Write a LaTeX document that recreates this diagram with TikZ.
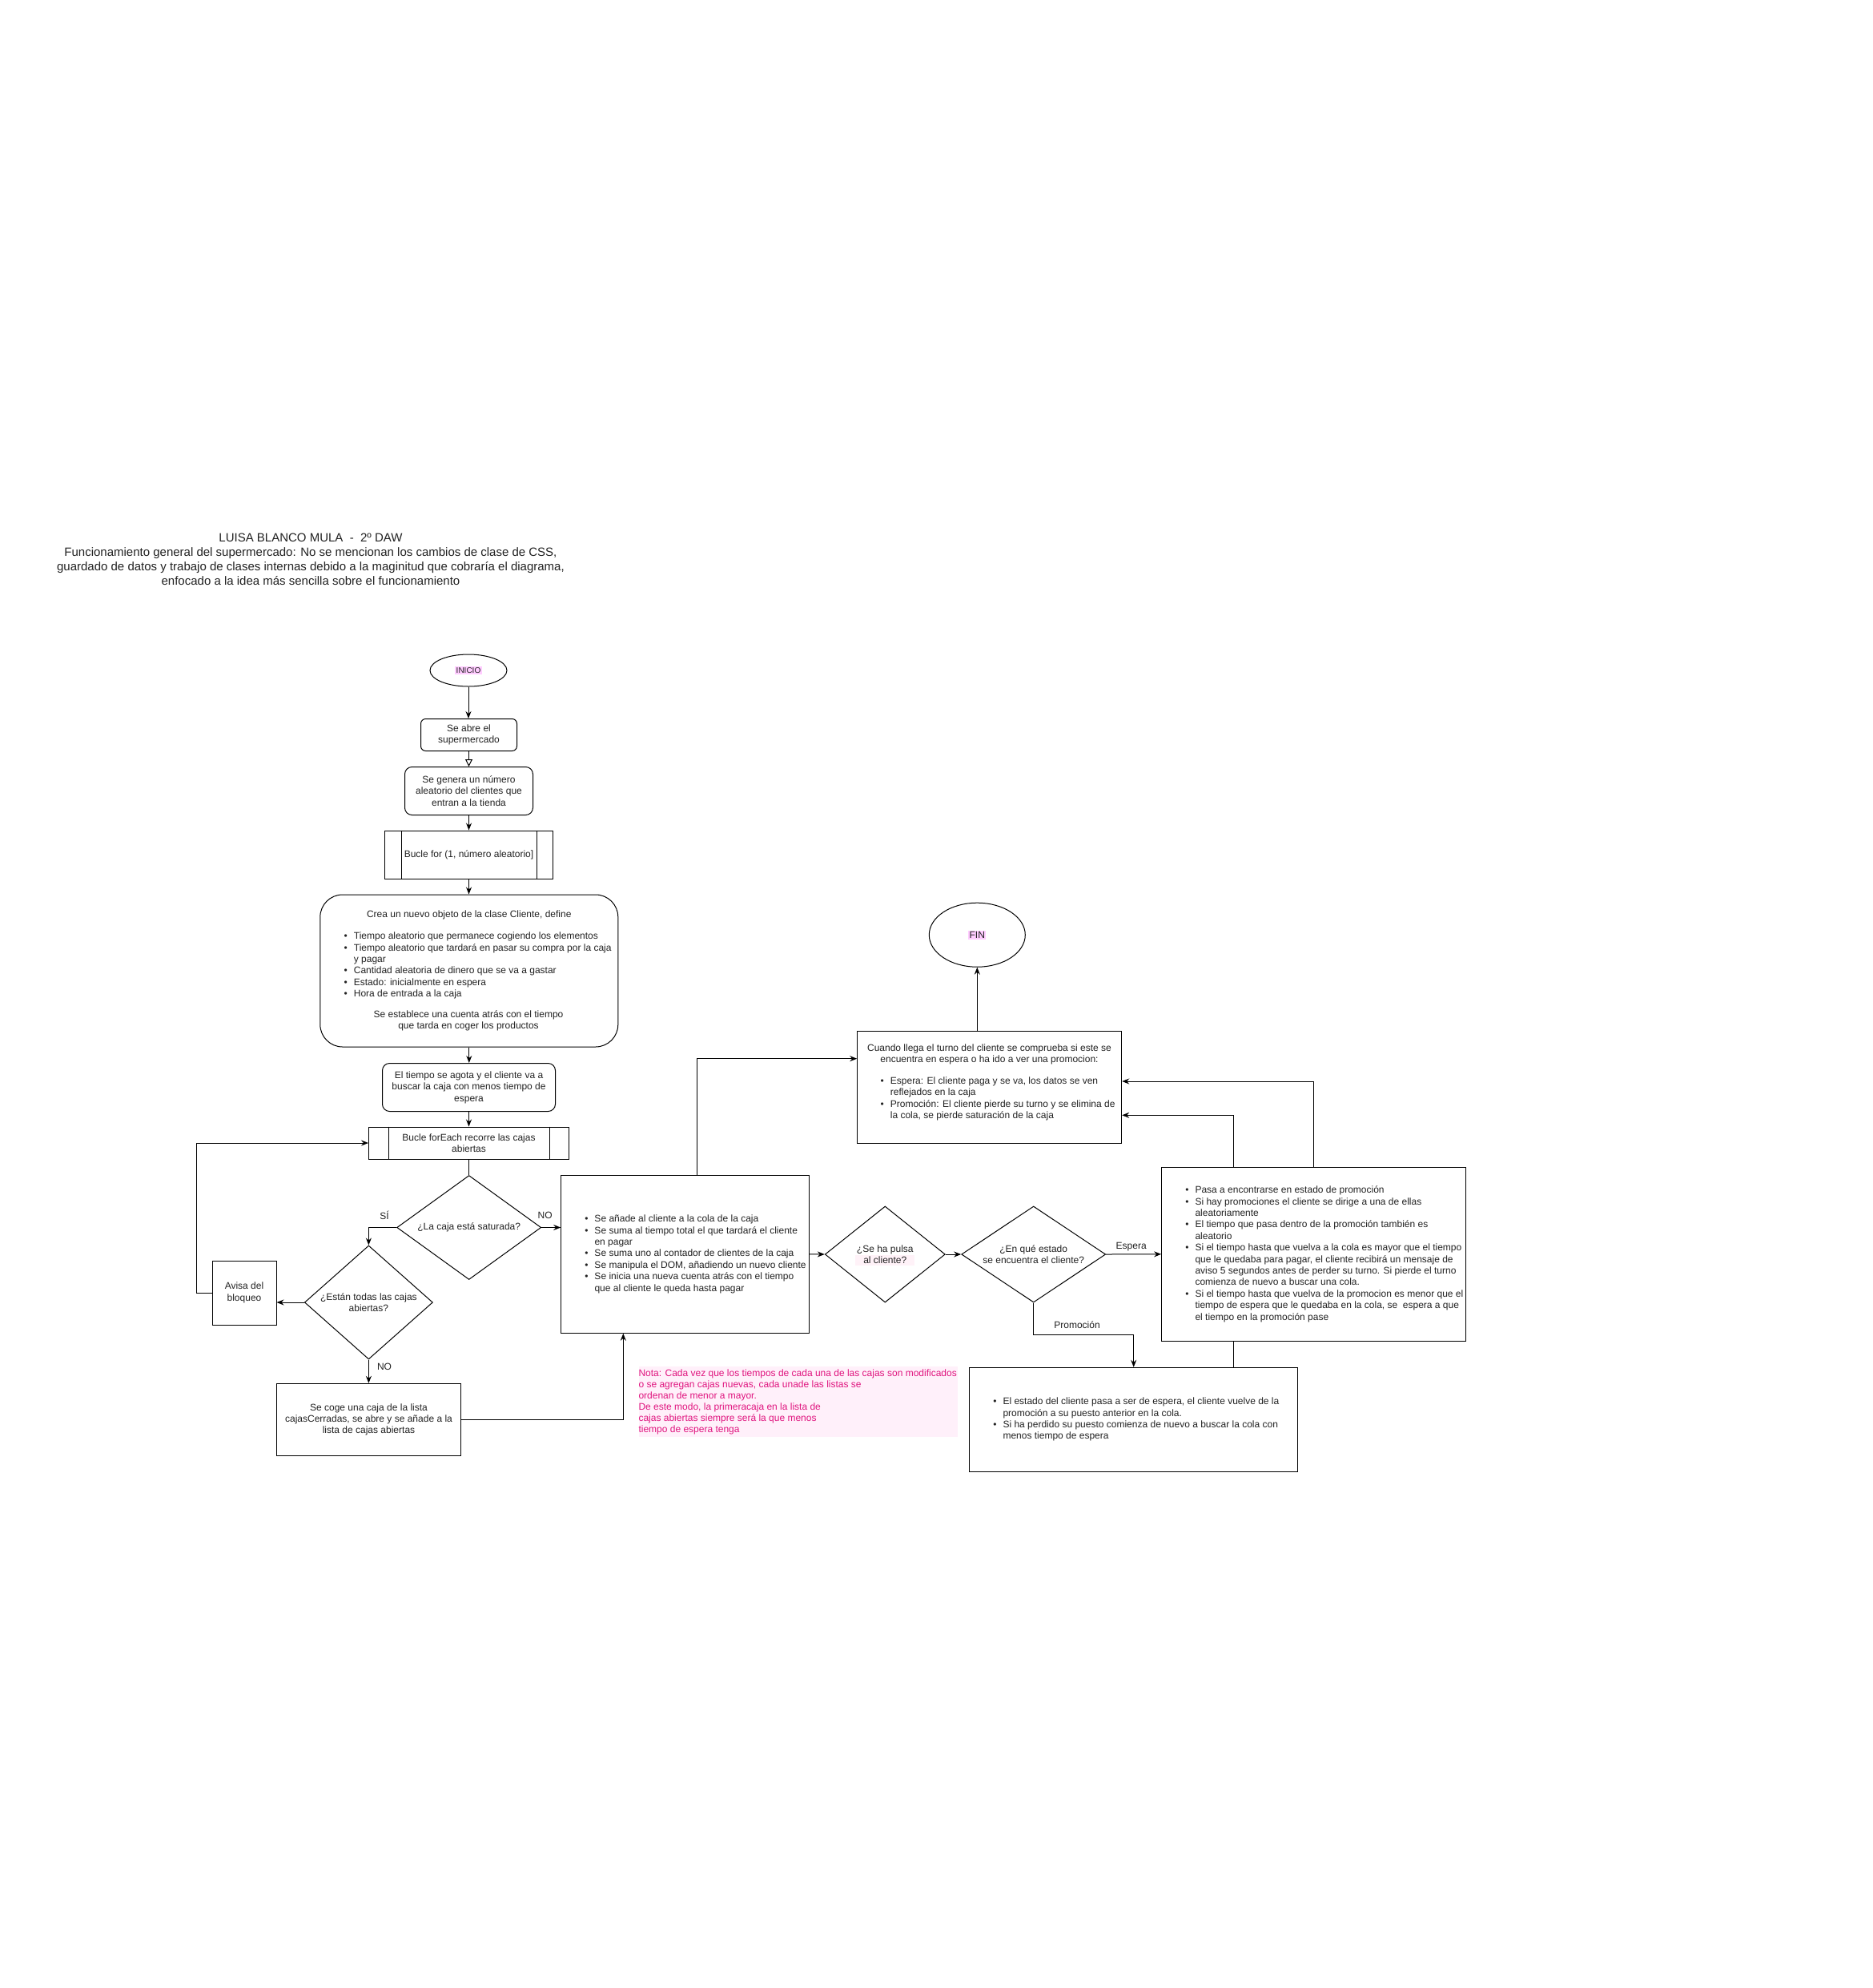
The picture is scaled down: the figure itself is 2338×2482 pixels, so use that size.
\documentclass[tikz,border=0pt]{standalone}
\usepackage{fontspec}
\setmainfont{Liberation Sans}
\usetikzlibrary{shapes.geometric,arrows.meta,calc}
\definecolor{txt}{HTML}{222222}
\definecolor{hl}{HTML}{FFCCFF}
\definecolor{notetxt}{HTML}{E0157F}
\definecolor{notebg}{HTML}{FFF0FA}
\definecolor{faint}{HTML}{FFF2F8}
\newcommand{\fsn}{\fontsize{12pt}{14.4pt}\selectfont}
\newcommand{\fsnote}{\fontsize{12pt}{14pt}\selectfont}
\newcommand{\fst}{\fontsize{15pt}{18pt}\selectfont}
\newcommand{\itm}{\makebox[0pt][r]{\textbullet\hspace{8pt}}}
\begin{document}
\begin{tikzpicture}[x=1pt,y=-1pt,
  base/.style={draw=black, line width=1pt, inner sep=0pt, font=\fsn, text=txt, align=center},
  rectnode/.style={base, rectangle, fill=white},
  roundnode/.style={base, rectangle, fill=white},
  termnode/.style={base, ellipse},
  decnode/.style={base, diamond},
  txtn/.style={font=\fsn, text=txt, inner sep=0pt, align=left},
  lbl/.style={font=\fsn, text=txt, inner sep=0pt},
  arr/.style={line width=1pt, -{Stealth[length=9pt,width=7pt,inset=3pt]}},
  oarr/.style={line width=1pt, -{Triangle[open,length=9pt,width=9pt]}},
  conn/.style={line width=1pt}
]
\useasboundingbox[fill=white] (0,0) rectangle (2338,2482);

% title
\node[font=\fst, text=txt, align=center, inner sep=0pt] (title) at (388,698)
 {LUISA BLANCO MULA~ -~ 2º DAW\\Funcionamiento general del supermercado: No se mencionan los cambios de clase de CSS,\\guardado de datos y trabajo de clases internas debido a la maginitud que cobraría el diagrama,\\enfocado a la idea más sencilla sobre el funcionamiento};

% left column
\node[termnode, minimum width=96pt, minimum height=40pt] (inicio) at (585,837) {};
\node[fill=hl, inner sep=1.5pt, font=\fontsize{10pt}{12pt}\selectfont, text=txt] (inicioT) at (inicio) {INICIO};

\node[roundnode, rounded corners=6pt, minimum width=120pt, minimum height=40pt] (abre) at (585.5,917.5) {Se abre el\\supermercado};
\node[roundnode, rounded corners=9pt, minimum width=160pt, minimum height=60pt] (genera) at (585.5,987.5) {Se genera un número\\aleatorio del clientes que\\entran a la tienda};
\node[rectnode, minimum width=210pt, minimum height=60pt] (bfor) at (585.5,1067) {Bucle for (1, número aleatorio]};
\draw[conn] ([xshift=21pt]bfor.north west) -- ([xshift=21pt]bfor.south west);
\draw[conn] ([xshift=-21pt]bfor.north east) -- ([xshift=-21pt]bfor.south east);

\node[roundnode, rounded corners=28pt, minimum width=372pt, minimum height=190pt] (crea) at (585.8,1212) {};
\node[txtn, align=center] (creaA) at (585.8,1142) {Crea un nuevo objeto de la clase Cliente, define};
\node[txtn, anchor=west] (creaB) at (441.7,1205.5) {\itm Tiempo aleatorio que permanece cogiendo los elementos\\\itm Tiempo aleatorio que tardará en pasar su compra por la caja\\y pagar\\\itm Cantidad aleatoria de dinero que se va a gastar\\\itm Estado: inicialmente en espera\\\itm Hora de entrada a la caja};
\node[txtn, align=center] (creaC) at (585,1274.5) {Se establece una cuenta atrás con el tiempo\\que tarda en coger los productos};

\node[roundnode, rounded corners=9pt, minimum width=216pt, minimum height=60pt] (tiempo) at (585.5,1357.5) {El tiempo se agota y el cliente va a\\buscar la caja con menos tiempo de\\espera};

\node[rectnode, minimum width=250pt, minimum height=40pt] (bfe) at (585.5,1427) {Bucle forEach recorre las cajas\\abiertas};
\draw[conn] ([xshift=25pt]bfe.north west) -- ([xshift=25pt]bfe.south west);
\draw[conn] ([xshift=-25pt]bfe.north east) -- ([xshift=-25pt]bfe.south east);

\node[decnode, aspect=1.385, minimum width=180pt, minimum height=130pt] (sat) at (585.7,1532.5) {¿La caja está saturada?};
\node[decnode, aspect=1.127, minimum width=160pt, minimum height=142pt] (todas) at (460.4,1626) {¿Están todas las cajas\\abiertas?};
\node[rectnode, minimum width=80pt, minimum height=80pt] (avisa) at (305,1614) {Avisa del\\bloqueo};
\node[rectnode, minimum width=230pt, minimum height=90pt] (coge) at (460.5,1772.3) {Se coge una caja de la lista\\cajasCerradas, se abre y se añade a la\\lista de cajas abiertas};

% middle
\node[rectnode, minimum width=310pt, minimum height=197pt] (anade) at (855.7,1565.8) {};
\node[txtn, anchor=west] (anadeT) at (742.3,1565.7) {\itm Se añade al cliente a la cola de la caja\\\itm Se suma al tiempo total el que tardará el cliente\\en pagar\\\itm Se suma uno al contador de clientes de la caja\\\itm Se manipula el DOM, añadiendo un nuevo cliente\\\itm Se inicia una nueva cuenta atrás con el tiempo\\que al cliente le queda hasta pagar};

\node[fill=notebg, minimum width=398.4pt, minimum height=87.3pt, inner sep=0pt, anchor=north west] (notabg) at (797.3,1706) {};
\node[txtn, font=\fsnote, text=notetxt, anchor=west] (nota) at (797.3,1750) {Nota: Cada vez que los tiempos de cada una de las cajas son modificados\\o se agregan cajas nuevas, cada unade las listas se\\ordenan de menor a mayor.\\De este modo, la primeracaja en la lista de\\cajas abiertas siempre será la que menos\\tiempo de espera tenga};

\fill[faint] (1068,1567) rectangle (1141.7,1580);
\node[decnode, aspect=1.25, minimum width=150pt, minimum height=120pt] (pulsa) at (1105.3,1566) {¿Se ha pulsa\\al cliente?};
\node[decnode, aspect=1.5, minimum width=180pt, minimum height=120pt] (estado) at (1290.7,1566) {¿En qué estado\\se encuentra el cliente?};

% right
\node[termnode, minimum width=120pt, minimum height=80pt] (fin) at (1220.3,1167.2) {};
\node[fill=hl, inner sep=1.5pt, font=\fsn, text=txt] (finT) at (fin) {FIN};

\node[rectnode, minimum width=330pt, minimum height=140pt] (cuando) at (1235.7,1357.3) {};
\node[txtn, align=center] (cuandoA) at (1235.5,1316.5) {Cuando llega el turno del cliente se comprueba si este se\\encuentra en espera o ha ido a ver una promocion:};
\node[txtn, anchor=west] (cuandoB) at (1111.7,1372) {\itm Espera: El cliente paga y se va, los datos se ven\\reflejados en la caja\\\itm Promoción: El cliente pierde su turno y se elimina de\\la cola, se pierde saturación de la caja};

\node[rectnode, minimum width=410pt, minimum height=130pt] (vuelve) at (1415.7,1772.3) {};
\node[txtn, anchor=west] (vuelveT) at (1252.3,1772.2) {\itm El estado del cliente pasa a ser de espera, el cliente vuelve de la\\promoción a su puesto anterior en la cola.\\\itm Si ha perdido su puesto comienza de nuevo a buscar la cola con\\menos tiempo de espera};

% connector behind promo box
\coordinate (h4) at (0,1392.3);
\draw[arr] ([xshift=125pt]vuelve.north) |- (cuando.east |- h4);

\node[rectnode, minimum width=380pt, minimum height=217pt] (promo) at (1640.7,1565.8) {};
\node[txtn, anchor=west] (promoT) at (1492.3,1565.8) {\itm Pasa a encontrarse en estado de promoción\\\itm Si hay promociones el cliente se dirige a una de ellas\\aleatoriamente\\\itm El tiempo que pasa dentro de la promoción también es\\aleatorio\\\itm Si el tiempo hasta que vuelva a la cola es mayor que el tiempo\\que le quedaba para pagar, el cliente recibirá un mensaje de\\aviso 5 segundos antes de perder su turno. Si pierde el turno\\comienza de nuevo a buscar una cola.\\\itm Si el tiempo hasta que vuelva de la promocion es menor que el\\tiempo de espera que le quedaba en la cola, se~ espera a que\\el tiempo en la promoción pase};

% connectors
\draw[arr] (inicio.south) -- (inicio.south |- abre.north);
\draw[oarr] (abre.south) -- (genera.north);
\draw[arr] (genera.south) -- (bfor.north);
\draw[arr] (bfor.south) -- (bfor.south |- crea.north);
\draw[arr] (crea.south) -- (crea.south |- tiempo.north);
\draw[arr] (tiempo.south) -- (bfe.north);
\draw[conn] (bfe.south) -- (bfe.south |- sat.north);
\draw[arr] (sat.west) -| (todas.north);
\draw[arr] (sat.east) -- (sat.east -| anade.west);
\draw[arr] (todas.south) -- (todas.south |- coge.north);
\draw[arr] (todas.west) -- (todas.west -| avisa.east);
\coordinate (loopx) at (245.4,1614);
\draw[arr] (avisa.west) -- (loopx) |- (bfe.west);
\coordinate (cogeup) at (778.3,1772.3);
\draw[arr] (coge.east) -- (cogeup) -- (cogeup |- anade.south);
\coordinate (h1) at (0,1321.7);
\draw[arr] ([xshift=15pt]anade.north) |- (cuando.west |- h1);
\draw[arr] (anade.east) -- (pulsa.west);
\draw[arr] (pulsa.east) -- (estado.west);
\draw[arr] (estado.east) -- (promo.west);
\coordinate (h2) at (0,1666.7);
\draw[arr] (estado.south) -- (estado.south |- h2) -| (vuelve.north);
\coordinate (h3) at (0,1350);
\draw[arr] (promo.north) |- (cuando.east |- h3);
\draw[arr] (cuando.north -| fin.south) -- (fin.south);

% labels
\node[lbl] (lSi) at (480,1517) {SÍ};
\node[lbl] (lNo1) at (680.7,1517) {NO};
\node[lbl] (lNo2) at (480,1706.7) {NO};
\node[lbl] (lEsp) at (1412.7,1557) {Espera};
\node[lbl] (lPro) at (1345,1654) {Promoción};
\end{tikzpicture}
\end{document}
